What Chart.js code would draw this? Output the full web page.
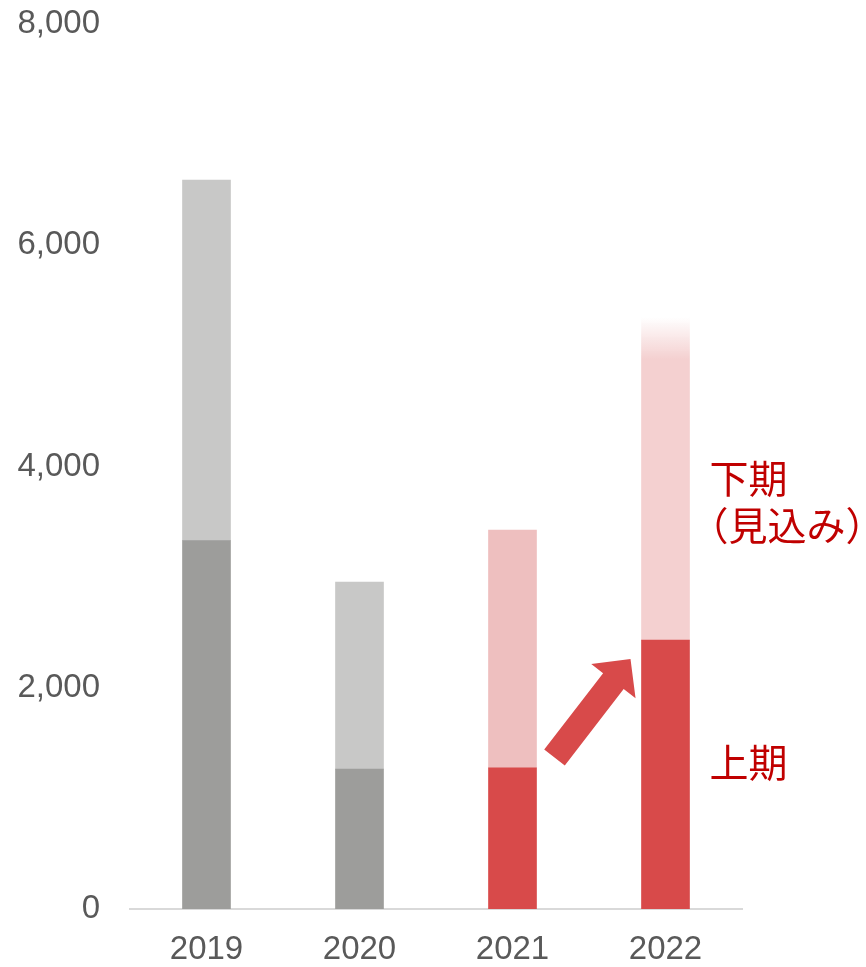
<!DOCTYPE html>
<html>
<head>
<meta charset="utf-8">
<script src="https://cdn.jsdelivr.net/npm/chart.js@4"></script>
<style>
  body { margin: 0; background: #fff; }
  #wrap { width: 866px; height: 967px; }
</style>
</head>
<body>
<div id="wrap"><canvas id="chart" width="866" height="967"></canvas></div>
<script>
const years = ['2019', '2020', '2021', '2022'];
const firstHalf = [3330, 1265, 1275, 2430];
const secondHalf = [3260, 1690, 2150, 2920];
const yTicks = [0, 2000, 4000, 6000, 8000];
const upperLabel = ['下期', '（見込み）'];
const lowerLabel = '上期';

const RED = '#d84a4a';
const TEXT_RED = '#c00000';

function upperColor(ctx) {
  const colors = ['#c8c8c7', '#c8c8c7', '#eebfbf'];
  if (ctx.dataIndex < 3) return colors[ctx.dataIndex];
  const chart = ctx.chart;
  if (!chart.chartArea) return '#f4d0d0';
  const y = chart.scales.y;
  const top = y.getPixelForValue(firstHalf[3] + secondHalf[3]);
  const g = chart.ctx.createLinearGradient(0, top, 0, top + 42);
  g.addColorStop(0, 'rgba(244,208,208,0)');
  g.addColorStop(1, 'rgba(244,208,208,1)');
  return g;
}

const notes = {
  id: 'notes',
  afterDatasetsDraw(chart) {
    const c = chart.ctx;
    const xs = chart.scales.x, ys = chart.scales.y;
    const x21 = xs.getPixelForValue(2), x22 = xs.getPixelForValue(3);

    // arrow from 2021 toward 2022
    const tx = x21 + 42, ty = ys.getPixelForValue(1370);
    const hx = x22 - 35, hy = ys.getPixelForValue(2260);
    const ang = Math.atan2(hy - ty, hx - tx);
    const len = Math.hypot(hx - tx, hy - ty);
    c.save();
    c.translate(tx, ty);
    c.rotate(ang);
    c.fillStyle = RED;
    c.beginPath();
    c.moveTo(0, -13);
    c.lineTo(len - 28, -13);
    c.lineTo(len - 28, -28);
    c.lineTo(len, 0);
    c.lineTo(len - 28, 28);
    c.lineTo(len - 28, 13);
    c.lineTo(0, 13);
    c.closePath();
    c.fill();
    c.restore();

    c.save();
    c.fillStyle = TEXT_RED;
    c.font = '39px "Noto Sans CJK JP"';
    c.textBaseline = 'middle';
    c.textAlign = 'left';
    const lx = x22 + 44;
    c.fillText(upperLabel[0], lx, ys.getPixelForValue(3890));
    c.fillText(upperLabel[1], lx - 20, ys.getPixelForValue(3470));
    c.fillText(lowerLabel, lx, ys.getPixelForValue(1330));
    c.restore();
  }
};

new Chart(document.getElementById('chart'), {
  type: 'bar',
  data: {
    labels: years,
    datasets: [
      {
        label: lowerLabel,
        data: firstHalf,
        backgroundColor: ['#9d9d9b', '#9d9d9b', RED, RED],
        barThickness: 48
      },
      {
        label: upperLabel.join(''),
        data: secondHalf,
        backgroundColor: upperColor,
        barThickness: 48
      }
    ]
  },
  options: {
    responsive: false,
    animation: false,
    layout: { padding: { top: 24, right: 124, bottom: 0, left: 0 } },
    plugins: { legend: { display: false }, tooltip: { enabled: false } },
    scales: {
      x: {
        stacked: true,
        afterFit(scale) { scale.height = 58; },
        grid: { display: false, drawTicks: false },
        border: { display: true, color: '#d9d9d9', width: 2 },
        ticks: {
          color: '#595959',
          padding: 21,
          maxRotation: 0,
          font: { family: '"Liberation Sans", Arial', size: 33 }
        }
      },
      y: {
        stacked: true,
        min: 0,
        max: 8000,
        afterFit(scale) {
          scale.width = 130;
          scale.paddingTop = 0;
          scale.paddingBottom = 0;
        },
        afterBuildTicks(scale) { scale.ticks = yTicks.map(v => ({ value: v })); },
        grid: { display: false, drawTicks: false },
        border: { display: false },
        ticks: {
          color: '#595959',
          padding: 30,
          font: { family: '"Liberation Sans", Arial', size: 33 },
          callback: v => v.toLocaleString('en-US')
        }
      }
    }
  },
  plugins: [notes]
});
</script>
</body>
</html>
